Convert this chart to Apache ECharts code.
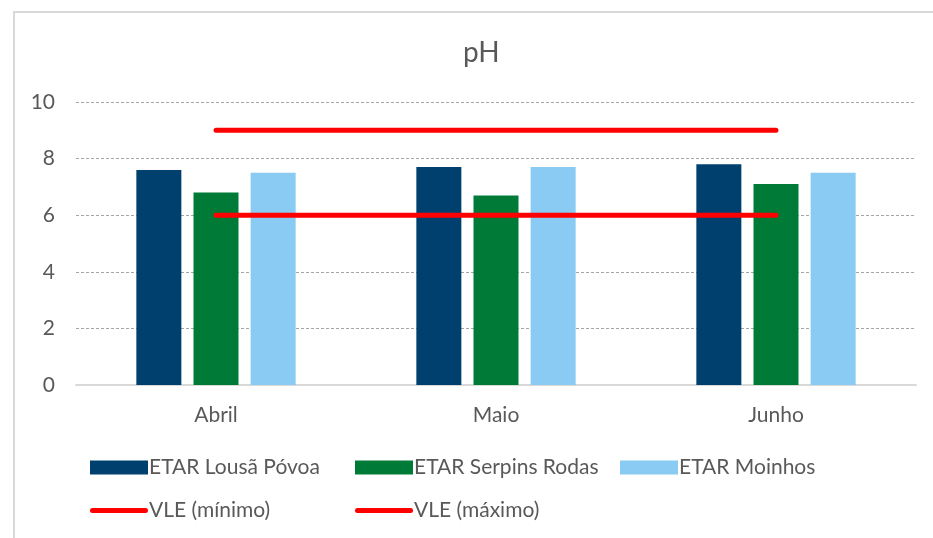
<!DOCTYPE html>
<html>
<head>
<meta charset="utf-8">
<script src="https://cdn.jsdelivr.net/npm/echarts@6/dist/echarts.min.js"></script>
<style>
html,body{margin:0;padding:0;background:#fff;}
#c{width:933px;height:538px;}
</style>
</head>
<body>
<div id="c"></div>
<script>
const categories = ['Abril', 'Maio', 'Junho'];
const lousaPovoa = [7.6, 7.7, 7.8];
const serpinsRodas = [6.8, 6.7, 7.1];
const moinhos = [7.5, 7.7, 7.5];
const vleMin = [6, 6, 6];
const vleMax = [9, 9, 9];
const yTicks = { min: 0, max: 10, interval: 2 };

const FONT = 'Lato';
const TXT = '#595959';
const capsule = 'path://M2.5,0 L55.5,0 A2.5,2.5 0 0 1 55.5,5 L2.5,5 A2.5,2.5 0 0 1 2.5,0 Z';

function leg(name, left, top, isLine) {
  return {
    data: [name],
    left: left, top: top,
    orient: 'horizontal',
    itemWidth: 58,
    itemHeight: isLine ? 5 : 14,
    icon: isLine ? capsule : 'rect',
    itemGap: 0,
    padding: 0,
    textStyle: { color: TXT, fontSize: 21, fontFamily: FONT, padding: [0, 0, 0, -4] },
    selectedMode: false
  };
}

const chart = echarts.init(document.getElementById('c'));
chart.setOption({
  backgroundColor: '#fff',
  animation: false,
  title: {
    text: 'pH', left: 458, top: 34,
    textStyle: { color: TXT, fontSize: 28, fontWeight: 'normal', fontFamily: FONT }
  },
  graphic: [{
    type: 'rect', silent: true,
    shape: { x: 14, y: 12, width: 1200, height: 800 },
    style: { fill: 'none', stroke: '#d9d9d9', lineWidth: 2 }
  }],
  legend: [
    leg('ETAR Lousã Póvoa', 90, 457, false),
    leg('ETAR Serpins Rodas', 355, 457, false),
    leg('ETAR Moinhos', 620, 457, false),
    leg('VLE (mínimo)', 90, 500, true),
    leg('VLE (máximo)', 355, 500, true)
  ],
  grid: { left: 76, right: 17, top: 102, bottom: 153, containLabel: false },
  xAxis: {
    type: 'category',
    data: categories,
    axisLine: { lineStyle: { color: '#d9d9d9', width: 2 } },
    axisTick: { show: false },
    axisLabel: { color: TXT, fontSize: 21, fontFamily: FONT, margin: 20 }
  },
  yAxis: {
    type: 'value',
    min: yTicks.min, max: yTicks.max, interval: yTicks.interval,
    axisLine: { show: false },
    axisTick: { show: false },
    axisLabel: { color: TXT, fontSize: 21, fontFamily: FONT, margin: 21 },
    splitLine: { lineStyle: { color: '#a6a6a6', type: [3, 2], width: 1 } }
  },
  series: [
    { name: 'ETAR Lousã Póvoa', type: 'bar', data: lousaPovoa, barWidth: 45, barGap: '27%',
      itemStyle: { color: '#00406F' } },
    { name: 'ETAR Serpins Rodas', type: 'bar', data: serpinsRodas, barWidth: 45, barGap: '27%',
      itemStyle: { color: '#007A37' } },
    { name: 'ETAR Moinhos', type: 'bar', data: moinhos, barWidth: 45, barGap: '27%',
      itemStyle: { color: '#89CBF2' } },
    { name: 'VLE (mínimo)', type: 'line', data: vleMin, symbol: 'none', z: 5,
      itemStyle: { color: '#FF0000' },
      lineStyle: { color: '#FF0000', width: 5, cap: 'round' } },
    { name: 'VLE (máximo)', type: 'line', data: vleMax, symbol: 'none', z: 5,
      itemStyle: { color: '#FF0000' },
      lineStyle: { color: '#FF0000', width: 5, cap: 'round' } }
  ]
});
</script>
</body>
</html>
